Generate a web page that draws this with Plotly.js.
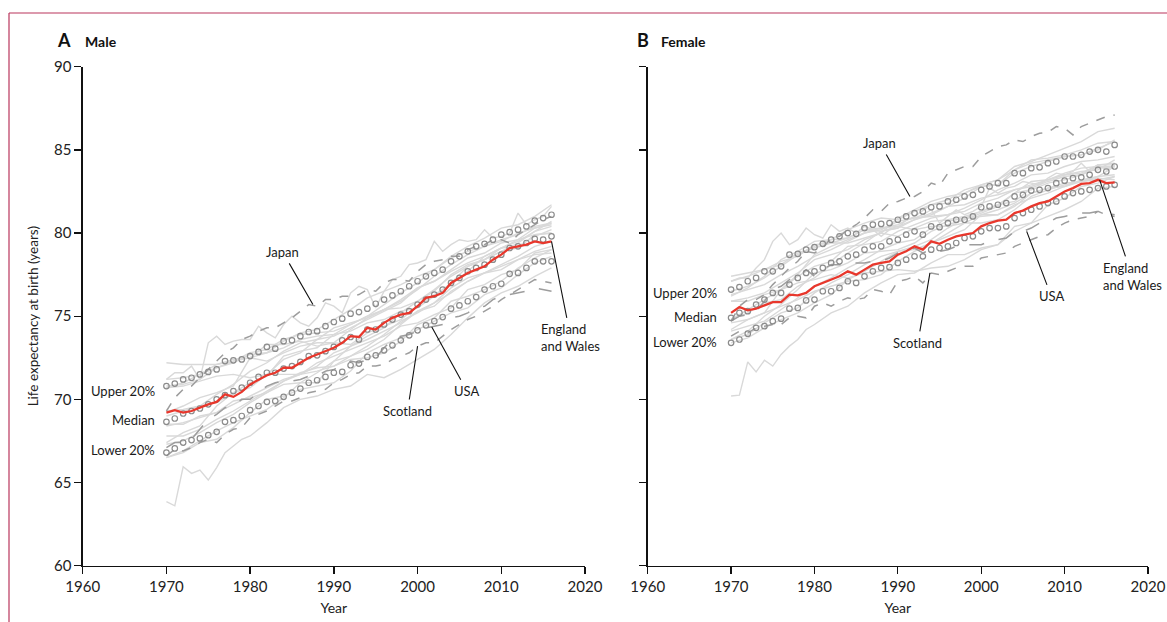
<!DOCTYPE html>
<html>
<head>
<meta charset="utf-8">
<script src="https://cdn.plot.ly/plotly-3.0.1.min.js"></script>
<style>html,body{margin:0;padding:0;background:#fff;}#chart{width:1167px;height:622px;}</style>
</head>
<body>
<div id="chart"></div>
<script>
// ---------- DATA ----------
const YEARS = [1970,1971,1972,1973,1974,1975,1976,1977,1978,1979,1980,1981,1982,1983,1984,1985,1986,1987,1988,1989,1990,1991,1992,1993,1994,1995,1996,1997,1998,1999,2000,2001,2002,2003,2004,2005,2006,2007,2008,2009,2010,2011,2012,2013,2014,2015,2016];
const YEARS2 = [1970,1972,1974,1976,1978,1980,1982,1984,1986,1988,1990,1992,1994,1996,1998,2000,2002,2004,2006,2008,2010,2012,2014,2016];
const PT_YEARS = [1970,1971,1972,1973,1974,1975,1976,1977,1978,1979,1980,1982,1984,1986,1988,1990,1992,1994,1996,1998,2000,2002,2004,2006,2008,2010,2012,2014,2016];

// Male highlighted series (yearly)
const maleEW = [69.2,69.35,69.2,69.3,69.5,69.7,69.85,70.3,70.15,70.45, 70.9,71.2,71.45,71.6,71.9,71.9,72.2,72.5,72.7,72.9, 73.1,73.4,73.8,73.75,74.3,74.2,74.6,74.9,75.1,75.2, 75.6,76.1,76.2,76.4,77.0,77.3,77.6,77.8,78.0,78.4, 78.7,79.1,79.2,79.3,79.5,79.4,79.5];
const maleUpper = [70.8,70.95,71.2,71.3,71.5,71.65,71.8,72.3,72.35,72.4, 72.6,72.85,73.15,73.05,73.5,73.55,73.8,74.05,74.1,74.4, 74.65,74.85,75.15,75.25,75.45,75.75,76.0,76.25,76.5,76.8, 77.1,77.4,77.6,77.8,78.3,78.6,78.9,79.2,79.35,79.6, 79.9,80.05,80.2,80.4,80.75,80.9,81.1];
const maleMedian = [68.65,68.85,69.15,69.3,69.45,69.7,70.0,70.25,70.5,70.7, 71.0,71.35,71.6,71.6,71.85,72.0,72.25,72.6,72.65,72.9, 73.15,73.55,73.75,73.6,74.2,74.2,74.5,74.8,75.1,75.3, 75.7,76.0,76.3,76.6,77.0,77.3,77.7,77.9,78.1,78.4, 78.7,79.1,79.2,79.4,79.65,79.6,79.8];
const maleLower = [66.8,67.05,67.4,67.55,67.65,67.85,68.05,68.65,68.75,69.0, 69.35,69.6,69.85,69.9,70.15,70.4,70.65,71.0,71.15,71.35, 71.6,71.65,72.05,72.15,72.55,72.65,72.95,73.25,73.55,73.85, 74.15,74.45,74.7,74.95,75.45,75.65,75.9,76.15,76.6,76.8, 76.95,77.55,77.6,77.9,78.3,78.3,78.3];
const maleJapan = [69.3,70.1,70.6,70.8,71.3,71.8,72.3,72.8,73.1,73.6, 73.8,74.1,74.3,74.3,74.6,74.9,75.3,75.7,75.6,76.0, 76.0,76.2,76.2,76.3,76.6,76.5,77.0,77.2,77.2,77.1, 77.7,78.1,78.3,78.4,78.6,78.6,79.0,79.2,79.3,79.6, 79.6,79.4,79.9,80.2,80.5,80.8,81.0];
const maleScotland = [66.6,67.0,66.9,67.1,67.4,67.6,67.4,67.9,68.2,68.3, 68.9,69.1,69.3,69.6,69.9,69.9,70.1,70.4,70.5,70.6, 71.0,71.2,71.5,71.6,72.0,72.0,72.1,72.4,72.6,72.8, 73.2,73.4,73.4,73.8,74.2,74.5,74.8,75.0,75.3,75.6, 76.0,76.3,76.6,76.9,77.2,77.1,77.0];
const maleUSA = [67.1,67.4,67.4,67.6,68.2,68.8,69.1,69.5,69.6,70.0, 70.0,70.4,70.8,71.0,71.1,71.1,71.2,71.4,71.4,71.7, 71.8,72.0,72.3,72.2,72.4,72.5,73.1,73.6,73.8,73.9, 74.1,74.3,74.4,74.5,74.9,75.0,75.2,75.5,75.6,76.0, 76.2,76.3,76.4,76.5,76.7,76.6,76.5];

// Male other countries (grey)
const maleAustralia = [67.4,68.0,68.4,69.6,70.4,71.0,71.4,72.6,72.9,73.1,73.9,74.5,75.0,75.4,75.9,76.6,77.4,78.1,78.7,79.2,79.5,80.0,80.3,80.5];
const maleAustria = [66.5,66.9,67.5,68.1,68.6,69.0,69.4,70.1,71.0,71.6,72.3,72.6,73.2,73.9,74.7,75.2,75.8,76.4,77.1,77.6,77.8,78.4,78.9,79.2];
const maleBelgium = [67.8,67.8,68.2,68.8,69.3,69.9,70.5,71.1,71.5,72.2,72.6,73.0,73.4,73.8,74.4,74.6,75.1,75.5,76.6,76.9,77.5,77.8,78.8,79.0];
const maleCanada = [69.3,69.4,69.6,70.3,70.9,71.7,72.2,72.9,73.4,73.6,74.3,74.6,74.9,75.4,76.0,76.7,77.1,77.7,78.2,78.6,79.1,79.6,79.9,80.0];
const maleDenmark = [70.7,70.8,71.1,71.4,71.5,71.3,71.5,71.5,71.5,71.7,72.0,72.4,72.5,72.8,73.5,74.5,74.9,75.9,76.2,76.6,77.1,77.9,78.5,79.0];
const maleFinland = [66.5,66.8,67.4,67.6,68.3,69.2,70.0,70.2,70.6,70.8,71.0,71.7,72.8,73.3,73.7,74.2,74.7,75.2,75.5,76.3,76.7,77.5,78.2,78.6];
const maleFrance = [68.4,68.6,68.9,69.2,69.7,70.2,70.7,71.2,71.5,72.0,72.8,73.2,73.6,74.1,74.6,75.3,75.8,76.7,77.3,77.6,78.1,78.6,79.2,79.5];
const maleGermany = [67.3,67.5,68.0,68.6,69.1,69.8,70.4,71.1,71.6,71.9,72.0,72.6,73.0,73.6,74.5,75.3,75.6,76.5,77.1,77.6,78.0,78.4,78.7,78.8];
const maleItaly = [69.0,69.3,69.6,69.8,70.4,70.7,71.5,72.4,72.8,73.6,73.8,74.3,74.8,75.3,75.8,76.7,77.1,77.8,78.5,78.8,79.4,79.6,80.3,80.6];
const maleNetherlands = [70.8,70.9,71.2,71.9,72.2,72.7,72.8,73.1,73.6,73.8,73.9,74.1,74.6,74.8,75.3,75.5,76.2,77.0,78.0,78.4,78.9,79.1,79.9,80.0];
const maleNorway = [71.2,71.3,71.5,71.9,72.3,72.5,72.3,72.8,73.2,73.4,73.4,74.2,74.9,75.4,75.5,75.9,76.5,77.5,78.1,78.4,78.9,79.4,80.1,80.7];
const maleNewZealand = [68.5,68.5,69.0,69.2,69.9,70.1,70.4,70.9,71.0,71.0,72.3,73.2,73.8,74.3,75.2,75.9,76.6,77.4,78.0,78.4,79.1,79.2,79.8,80.2];
const maleSpain = [69.2,69.6,70.1,70.4,70.8,72.5,73.3,73.3,73.5,73.2,73.4,73.3,74.0,74.4,74.8,75.6,76.3,76.9,77.7,78.6,79.1,79.5,80.1,80.4];
const maleSweden = [72.2,72.1,72.1,72.1,72.4,72.5,72.8,73.5,74.0,74.2,74.8,75.4,76.1,76.5,76.9,77.4,77.8,78.5,78.9,79.2,79.6,79.9,80.4,80.6];
const maleSwitzerland = [70.7,71.0,71.5,72.1,72.3,72.8,73.0,73.6,73.9,74.0,74.1,74.5,75.0,75.7,76.4,77.0,77.8,78.6,79.2,79.7,80.3,80.5,81.0,81.7];
const maleIceland = [71.2,71.6,71.6,72.0,71.2,73.4,73.8,73.3,73.5,73.6, 73.6,74.4,74.0,73.7,74.5,75.0,74.6,74.4,74.9,75.8, 75.6,75.2,76.4,76.8,76.6,75.5,76.5,77.2,77.4,78.1, 78.2,78.4,79.5,78.9,79.3,79.6,79.5,79.6,80.2,79.7, 79.8,80.0,81.2,80.5,80.8,81.0,81.6];
const malePortugal = [63.85,63.6,65.95,65.55,65.75,65.15,65.9,66.8,67.2,67.6,67.8,68.6,69.5,70.0,70.2,70.6,70.8,71.5,71.3,71.8,72.4,73.0,73.9,74.9,75.8,76.4,76.8,77.4,77.9];

// Female highlighted series (yearly)
const femaleEW = [75.2,75.55,75.35,75.45,75.65,75.85,75.85,76.3,76.25,76.4, 76.8,77.0,77.2,77.4,77.7,77.5,77.8,78.1,78.2,78.3, 78.7,78.9,79.2,79.0,79.5,79.35,79.6,79.8,79.9,80.0, 80.4,80.6,80.75,80.8,81.2,81.35,81.6,81.8,81.9,82.2, 82.5,82.7,82.95,83.0,83.2,83.0,83.05];
const femaleUpper = [76.6,76.75,77.1,77.3,77.7,77.7,78.0,78.7,78.75,79.0, 79.15,79.35,79.6,79.8,80.0,79.95,80.3,80.5,80.55,80.6, 80.8,81.0,81.2,81.3,81.55,81.6,81.9,82.0,82.2,82.3, 82.6,82.8,83.0,83.0,83.6,83.6,83.9,83.95,84.2,84.3, 84.6,84.6,84.7,84.9,85.0,84.9,85.3];
const femaleMedian = [74.9,75.2,75.3,75.7,76.0,76.4,76.4,76.9,77.3,77.6, 77.7,77.9,78.2,78.3,78.6,78.7,79.0,79.2,79.2,79.5, 79.6,79.9,80.1,79.9,80.4,80.35,80.6,80.8,80.8,81.0, 81.55,81.6,81.7,81.8,82.2,82.3,82.55,82.6,82.7,83.0, 83.15,83.3,83.35,83.5,83.8,83.7,84.0];
const femaleLower = [73.4,73.6,73.95,74.3,74.4,74.7,74.85,75.45,75.5,75.95, 76.0,76.5,76.5,76.7,77.1,77.0,77.4,77.7,77.9,77.95, 78.2,78.4,78.6,78.6,79.0,79.1,79.2,79.4,79.7,79.8, 80.1,80.3,80.3,80.4,80.9,81.2,81.4,81.6,81.8,81.9, 82.2,82.4,82.5,82.6,82.7,82.8,82.9];
const femaleJapan = [74.7,75.6,76.0,76.0,76.3,76.9,77.4,77.9,78.3,78.9, 78.8,79.1,79.7,79.8,80.2,80.5,80.9,81.4,81.3,81.8, 81.9,82.1,82.2,82.5,83.0,82.85,83.6,83.8,84.0,84.0, 84.6,84.9,85.2,85.3,85.6,85.5,85.8,86.0,86.05,86.4, 86.3,85.9,86.4,86.6,86.8,87.0,87.1];
const femaleScotland = [73.8,74.1,74.0,74.3,74.4,74.5,74.5,74.9,75.0,74.9, 75.6,75.8,75.6,75.9,76.1,76.0,76.1,76.6,76.5,76.3, 77.1,77.2,77.4,77.0,77.6,77.5,77.7,77.9,78.0,78.0, 78.5,78.6,78.7,78.8,79.2,79.4,79.6,79.8,79.9,80.3, 80.6,80.8,80.9,81.0,81.3,81.1,81.0];
const femaleUSA = [74.7,75.0,75.1,75.3,75.9,76.6,76.8,77.2,77.3,77.8, 77.4,77.8,78.1,78.1,78.2,78.2,78.2,78.3,78.3,78.5, 78.8,78.9,79.1,78.8,79.0,78.9,79.0,79.2,79.3,79.3, 79.3,79.5,79.6,79.7,80.1,80.1,80.3,80.6,80.6,80.9, 81.0,81.1,81.2,81.2,81.3,81.2,81.1];

// Female other countries (grey)
const femaleAustralia = [74.2,74.8,75.2,76.6,77.4,78.0,78.3,79.2,79.3,79.5,80.1,80.5,80.9,81.1,81.5,82.0,82.6,83.0,83.5,83.6,84.0,84.3,84.4,84.6];
const femaleAustria = [73.4,73.7,74.3,74.8,75.2,75.8,76.3,77.2,77.7,78.3,78.9,79.2,79.6,80.3,80.9,81.3,81.7,81.9,82.7,83.1,83.4,83.5,83.9,84.0];
const femaleBelgium = [74.1,74.4,74.7,75.4,76.1,76.8,77.3,77.9,78.4,79.0,79.4,79.6,80.3,80.7,80.9,81.0,81.1,81.6,82.4,82.7,83.0,83.1,83.4,84.0];
const femaleCanada = [76.3,76.6,76.9,77.5,78.0,78.6,79.0,79.5,80.0,80.2,80.7,80.9,81.0,81.1,81.3,81.8,82.1,82.6,82.8,83.2,83.6,83.9,84.0,84.0];
const femaleDenmark = [75.9,75.9,76.3,76.6,77.0,77.2,77.5,77.3,77.6,77.7,77.8,77.7,77.9,78.0,78.4,79.0,79.3,80.4,80.6,81.0,81.4,81.9,82.7,82.8];
const femaleFinland = [73.6,74.1,75.0,75.7,76.6,77.6,77.8,78.2,78.8,78.9,79.0,79.4,80.1,80.5,80.8,81.2,81.6,82.4,83.1,83.2,83.5,83.7,83.8,84.4];
const femaleFrance = [75.9,76.1,76.4,77.0,77.6,78.4,78.7,79.0,79.6,80.0,80.9,81.4,81.9,82.2,82.4,82.8,82.9,83.8,84.4,84.5,84.7,85.0,85.4,85.5];
const femaleGermany = [73.6,73.9,74.6,75.2,75.5,76.4,77.0,77.5,78.1,78.6,78.9,79.0,79.4,80.0,80.6,81.1,81.4,81.8,82.4,82.7,82.8,83.2,83.4,83.5];
const femaleItaly = [74.8,75.2,75.8,76.0,76.8,77.3,78.1,78.8,79.4,80.1,80.3,80.8,81.1,81.6,82.1,82.8,82.9,83.6,84.0,84.3,84.6,84.7,85.0,85.6];
const femaleNetherlands = [76.5,76.8,77.3,78.0,78.7,79.2,79.6,79.7,80.2,80.3,80.4,80.2,80.4,80.4,80.6,80.6,80.8,81.4,82.2,82.6,82.9,83.1,83.3,83.2];
const femaleNorway = [77.4,77.6,77.8,78.3,78.6,79.3,79.4,79.4,79.7,80.0,79.8,80.3,80.7,80.8,81.0,81.3,81.7,82.4,82.6,83.0,83.2,83.5,84.1,84.2];
const femaleNewZealand = [74.6,74.8,75.2,75.6,76.0,76.5,76.8,77.1,77.2,77.5,78.3,78.9,79.4,79.8,80.2,81.1,81.1,81.7,82.1,82.4,82.8,83.1,83.2,83.4];
const femaleSpain = [74.8,75.4,76.0,76.6,77.5,78.7,79.2,79.6,80.0,80.3,80.5,81.0,81.7,81.8,82.4,82.9,83.2,84.0,84.3,84.7,85.1,85.5,86.1,86.3];
const femaleSweden = [77.1,77.4,77.8,78.1,78.8,79.1,79.4,79.7,80.2,80.1,80.4,80.8,81.2,81.6,81.7,82.1,82.3,82.6,82.9,83.2,83.5,83.6,84.1,84.1];
const femaleSwitzerland = [76.2,76.7,77.4,78.4,78.9,79.5,79.6,80.2,80.6,80.9,80.8,81.3,81.7,82.0,82.6,82.9,83.2,83.8,84.2,84.4,84.6,84.7,85.1,85.5];
const femaleIceland = [77.1,77.3,77.3,77.9,78.4,79.5,80.0,79.3,79.6,80.3, 79.9,79.7,80.5,80.1,80.3,80.0,80.4,80.2,79.8,80.2, 80.3,80.8,80.9,81.1,81.4,80.6,81.0,81.4,81.1,81.3, 81.6,82.7,82.4,82.7,82.8,83.1,83.0,82.9,83.3,83.6, 83.5,83.7,84.2,83.7,84.1,83.8,84.1];
const femalePortugal = [70.2,70.25,72.25,71.65,72.35,72.0,72.7,73.2,73.6,74.2,74.5,75.2,75.6,76.4,77.0,77.5,77.6,78.2,78.7,78.7,79.1,79.3,80.1,80.6,81.7,82.1,82.8,83.0,83.4];

const X_TICKS = [1960,1970,1980,1990,2000,2010,2020];
const Y_TICKS = [60,65,70,75,80,85,90];

// ---------- STYLES ----------
const FONT = 'Lato, "Noto Sans", sans-serif';
const GREY = '#d9d9d9';
const DASHC = '#9d9d9d';
const CIRC = '#8c8c8c';
const RED = '#e8372c';
const TXT = '#1a1a1a';

function greyLine(x, y, xa, ya) {
  return {x: x, y: y, xaxis: xa, yaxis: ya, type: 'scatter', mode: 'lines',
          line: {color: GREY, width: 1.4}, hoverinfo: 'skip', showlegend: false};
}
function dashLine(x, y, xa, ya, dash) {
  return {x: x, y: y, xaxis: xa, yaxis: ya, type: 'scatter', mode: 'lines',
          line: {color: DASHC, width: 1.5, dash: dash}, showlegend: false};
}
function circles(x, y, xa, ya) {
  return {x: x, y: y, xaxis: xa, yaxis: ya, type: 'scatter', mode: 'markers',
          marker: {symbol: 'circle-open', size: 5.5, color: CIRC, line: {width: 1.2, color: CIRC}},
          showlegend: false};
}
function redLine(x, y, xa, ya) {
  return {x: x, y: y, xaxis: xa, yaxis: ya, type: 'scatter', mode: 'lines',
          line: {color: RED, width: 2.3}, showlegend: false};
}

const maleGreys = [maleAustralia, maleAustria, maleBelgium, maleCanada, maleDenmark, maleFinland, maleFrance,
  maleGermany, maleItaly, maleNetherlands, maleNorway, maleNewZealand, maleSpain, maleSweden, maleSwitzerland];
const femaleGreys = [femaleAustralia, femaleAustria, femaleBelgium, femaleCanada, femaleDenmark, femaleFinland, femaleFrance,
  femaleGermany, femaleItaly, femaleNetherlands, femaleNorway, femaleNewZealand, femaleSpain, femaleSweden, femaleSwitzerland];

const traces = [];
maleGreys.forEach(s => traces.push(greyLine(YEARS2, s, 'x', 'y')));
traces.push(greyLine(YEARS, maleIceland, 'x', 'y'));
traces.push(greyLine(PT_YEARS, malePortugal, 'x', 'y'));
femaleGreys.forEach(s => traces.push(greyLine(YEARS2, s, 'x2', 'y2')));
traces.push(greyLine(YEARS, femaleIceland, 'x2', 'y2'));
traces.push(greyLine(PT_YEARS, femalePortugal, 'x2', 'y2'));

traces.push(dashLine(YEARS, maleJapan, 'x', 'y', 'dash'));
traces.push(dashLine(YEARS, maleScotland, 'x', 'y', 'dash'));
traces.push(dashLine(YEARS, maleUSA, 'x', 'y', 'longdash'));
traces.push(dashLine(YEARS, femaleJapan, 'x2', 'y2', 'dash'));
traces.push(dashLine(YEARS, femaleScotland, 'x2', 'y2', 'dash'));
traces.push(dashLine(YEARS, femaleUSA, 'x2', 'y2', 'longdash'));

traces.push(circles(YEARS, maleUpper, 'x', 'y'));
traces.push(circles(YEARS, maleMedian, 'x', 'y'));
traces.push(circles(YEARS, maleLower, 'x', 'y'));
traces.push(circles(YEARS, femaleUpper, 'x2', 'y2'));
traces.push(circles(YEARS, femaleMedian, 'x2', 'y2'));
traces.push(circles(YEARS, femaleLower, 'x2', 'y2'));

traces.push(redLine(YEARS, maleEW, 'x', 'y'));
traces.push(redLine(YEARS, femaleEW, 'x2', 'y2'));

// ---------- LAYOUT ----------
const W = 1167, H = 622;
const px = v => v / W;
const py = v => 1 - v / H;

function xAxis(domain, anchor) {
  return {domain: domain, anchor: anchor, range: [1960, 2020], tickvals: X_TICKS, ticktext: X_TICKS.map(String),
    showline: true, linecolor: '#111', linewidth: 1.3, ticks: 'outside', ticklen: 7, tickwidth: 1.3, tickcolor: '#111',
    showgrid: false, zeroline: false, tickfont: {family: FONT, size: 15, color: '#222'},
    title: {text: 'Year', font: {family: FONT, size: 14, color: '#222'}, standoff: 9}, fixedrange: true};
}
function yAxis(domain, anchor, labels) {
  return {domain: domain, anchor: anchor, range: [60, 90], tickvals: Y_TICKS, ticktext: Y_TICKS.map(String),
    showticklabels: labels, showline: true, linecolor: '#111', linewidth: 1.3, ticks: 'outside', ticklen: 7,
    tickwidth: 1.3, tickcolor: '#111', showgrid: false, zeroline: false,
    tickfont: {family: FONT, size: 15, color: '#222'}, fixedrange: true};
}

const yDom = [1 - 565.7 / H, 1 - 66.7 / H];
const layout = {
  width: W, height: H, margin: {l: 0, r: 0, t: 0, b: 0}, paper_bgcolor: '#fff', plot_bgcolor: 'rgba(0,0,0,0)',
  showlegend: false, font: {family: FONT, color: TXT},
  xaxis: xAxis([82.7 / W, 585 / W], 'y'),
  yaxis: Object.assign(yAxis(yDom, 'x', true),
    {title: {text: 'Life expectancy at birth (years)', font: {family: FONT, size: 13.5, color: '#222'}, standoff: 12}}),
  xaxis2: xAxis([647.7 / W, 1148 / W], 'y2'),
  yaxis2: yAxis(yDom, 'x2', false),
  shapes: [
    {type: 'line', xref: 'paper', yref: 'paper', x0: px(9), x1: 1, y0: py(13), y1: py(13), line: {color: '#b9355c', width: 1.2}},
    {type: 'line', xref: 'paper', yref: 'paper', x0: px(9), x1: px(9), y0: 0, y1: py(13), line: {color: '#b9355c', width: 1.2}}
  ],
  annotations: []
};

const A = layout.annotations;
function panelTitle(letterX, wordX, letter, word) {
  A.push({xref: 'paper', yref: 'paper', x: px(letterX), y: py(40), xanchor: 'center', yanchor: 'middle', showarrow: false,
          text: '<b>' + letter + '</b>', font: {family: FONT, size: 18, color: '#111'}});
  A.push({xref: 'paper', yref: 'paper', x: px(wordX), y: py(41), xanchor: 'left', yanchor: 'middle', showarrow: false,
          text: '<b>' + word + '</b>', font: {family: FONT, size: 14, color: '#111'}});
}
panelTitle(64, 83, 'A', 'Male');
panelTitle(643, 659, 'B', 'Female');

function pointer(xa, ya, text, tx, ty, x, y) {
  A.push({xref: xa, yref: ya, axref: xa, ayref: ya, x: x, y: y, ax: tx, ay: ty, text: text, showarrow: true,
          arrowhead: 0, arrowwidth: 1.1, arrowcolor: '#111', standoff: 0, startstandoff: 2,
          font: {family: FONT, size: 13, color: TXT}, align: 'left'});
}
function label(xa, ya, text, x, y) {
  A.push({xref: xa, yref: ya, x: x, y: y, text: text, showarrow: false, xanchor: 'right', yanchor: 'middle',
          font: {family: FONT, size: 13, color: TXT}});
}

// Male panel labels
pointer('x', 'y', 'Japan', 1983.9, 78.85, 1987.5, 75.7);
pointer('x', 'y', 'Scotland', 1998.8, 69.3, 2000.0, 73.2);
pointer('x', 'y', 'USA', 2005.9, 70.5, 2001.7, 74.35);
pointer('x', 'y', 'England<br>and Wales', 2018.3, 73.7, 2016, 79.5);
label('x', 'y', 'Upper 20%', 1968.9, 70.5);
label('x', 'y', 'Median', 1968.9, 68.75);
label('x', 'y', 'Lower 20%', 1968.9, 66.95);

// Female panel labels
pointer('x2', 'y2', 'Japan', 1987.85, 85.4, 1991.45, 82.2);
pointer('x2', 'y2', 'Scotland', 1992.4, 73.4, 1993.85, 77.6);
pointer('x2', 'y2', 'USA', 2008.4, 76.2, 2005.45, 80.1);
pointer('x2', 'y2', 'England<br>and Wales', 2018.1, 77.4, 2014.2, 83.2);
label('x2', 'y2', 'Upper 20%', 1968.6, 76.4);
label('x2', 'y2', 'Median', 1968.6, 74.97);
label('x2', 'y2', 'Lower 20%', 1968.6, 73.46);

Plotly.newPlot('chart', traces, layout, {displayModeBar: false, staticPlot: true});
</script>
</body>
</html>
